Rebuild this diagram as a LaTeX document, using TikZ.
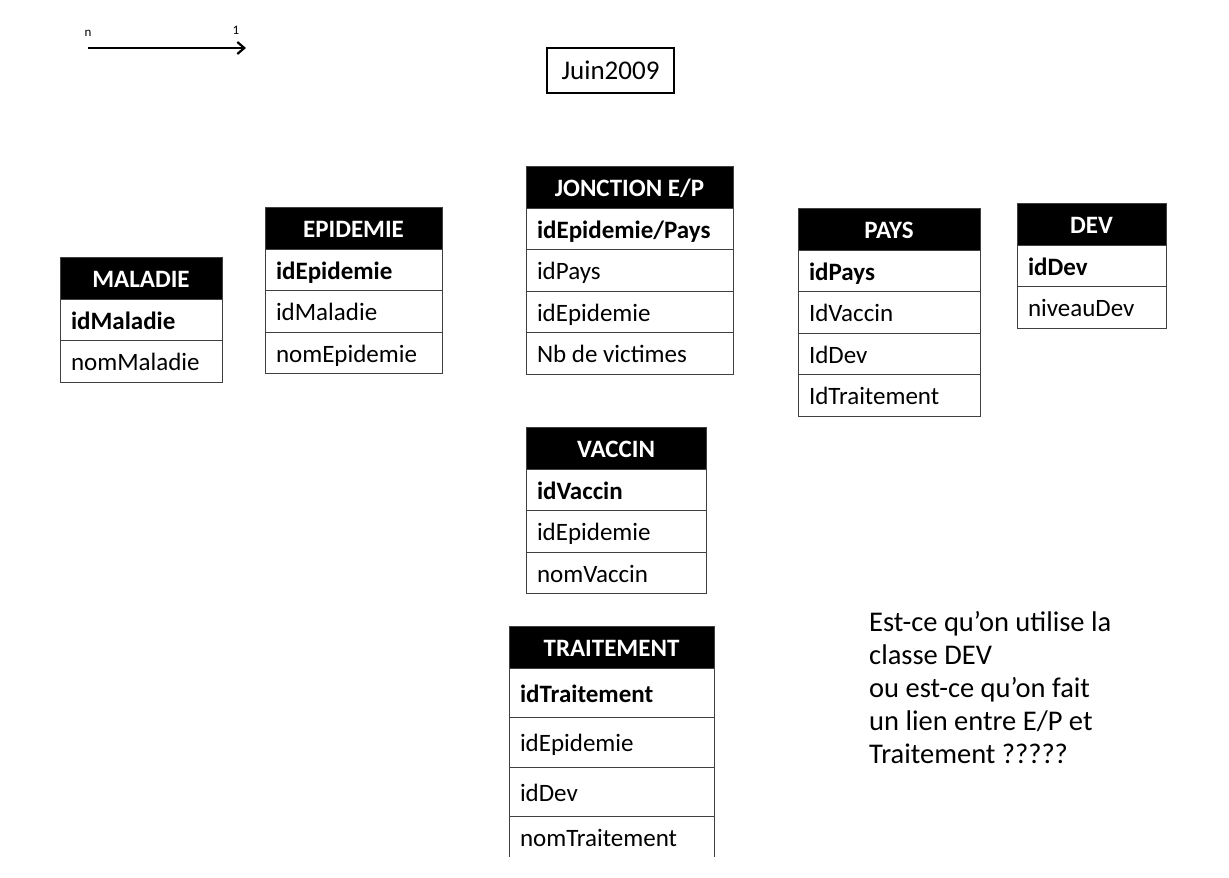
\documentclass[tikz,border=0pt]{standalone}
\usepackage{fontspec}
\setmainfont{Carlito}
\usetikzlibrary{positioning, arrows.meta}

\newcommand{\taille}{\fontsize{25}{29}\selectfont}

\begin{document}
\begin{tikzpicture}[x=1pt, y=-1pt,
    tete/.style={draw=black!75, fill=black, text=white, font=\taille\bfseries, line width=0.9pt,
      minimum width=#1, minimum height=42pt, inner sep=0pt, outer sep=0pt,
      text height=19pt, text depth=0pt},
    champ/.style={draw=black!75, line width=0.9pt, text width=#1, inner xsep=11pt, inner ysep=0pt,
      outer sep=0pt, minimum height=41.5pt, align=flush left, font=\taille,
      text height=19pt, text depth=0pt},
    cle/.style={champ=#1, font=\taille\bfseries}]
    \useasboundingbox (0,0) rectangle (1229,878);

    % sens des liens
    \node[font=\fontsize{13}{15}\selectfont] (n) at (88,33) {n};
    \node[font=\fontsize{13}{15}\selectfont] (un) at (236,30) {1};
    \coordinate (d) at (88,48);
    \coordinate (f) at (246,48);
    \draw[line width=2.2pt, -{Straight Barb[length=7pt, width=12pt]}] (d) -- (f);

    \node[draw, line width=1.8pt, minimum width=127pt, minimum height=45pt,
      font=\fontsize{27}{30}\selectfont] (date) at (610.5,70.5) {Juin2009};

    % MALADIE
    \node[tete=162pt, anchor=north west] (mal) at (60,257) {MALADIE};
    \node[cle=140pt, below=0pt of mal] (mal1) {idMaladie};
    \node[champ=140pt, below=0pt of mal1] (mal2) {nomMaladie};

    % EPIDEMIE
    \node[tete=177pt, anchor=north west] (epi) at (265,207) {EPIDEMIE};
    \node[cle=155pt, below=0pt of epi] (epi1) {idEpidemie};
    \node[champ=155pt, below=0pt of epi1] (epi2) {idMaladie};
    \node[champ=155pt, below=0pt of epi2] (epi3) {nomEpidemie};

    % JONCTION E/P
    \node[tete=207pt, anchor=north west] (jon) at (526,166) {JONCTION E/P};
    \node[cle=185pt, below=0pt of jon] (jon1) {idEpidemie/Pays};
    \node[champ=185pt, below=0pt of jon1] (jon2) {idPays};
    \node[champ=185pt, below=0pt of jon2] (jon3) {idEpidemie};
    \node[champ=185pt, below=0pt of jon3] (jon4) {Nb de victimes};

    % PAYS
    \node[tete=182pt, anchor=north west] (pays) at (798,208) {PAYS};
    \node[cle=160pt, below=0pt of pays] (pays1) {idPays};
    \node[champ=160pt, below=0pt of pays1] (pays2) {IdVaccin};
    \node[champ=160pt, below=0pt of pays2] (pays3) {IdDev};
    \node[champ=160pt, below=0pt of pays3] (pays4) {IdTraitement};

    % DEV
    \node[tete=149pt, anchor=north west] (dev) at (1017,203) {DEV};
    \node[cle=127pt, below=0pt of dev] (dev1) {idDev};
    \node[champ=127pt, below=0pt of dev1] (dev2) {niveauDev};

    % VACCIN
    \node[tete=180pt, anchor=north west] (vac) at (526,427) {VACCIN};
    \node[cle=158pt, below=0pt of vac] (vac1) {idVaccin};
    \node[champ=158pt, below=0pt of vac1] (vac2) {idEpidemie};
    \node[champ=158pt, below=0pt of vac2] (vac3) {nomVaccin};

    % TRAITEMENT
    \node[tete=205pt, anchor=north west] (tra) at (509,626) {TRAITEMENT};
    \node[cle=183pt, minimum height=49.5pt, below=0pt of tra] (tra1) {idTraitement};
    \node[champ=183pt, minimum height=49.5pt, below=0pt of tra1] (tra2) {idEpidemie};
    \node[champ=183pt, minimum height=49.5pt, below=0pt of tra2] (tra3) {idDev};
    \node[champ=183pt, draw=none, minimum height=40pt, below=0pt of tra3] (tra4) {nomTraitement};
    \draw[black!75, line width=0.9pt] (tra4.north west) -- (tra4.south west);
    \draw[black!75, line width=0.9pt] (tra4.north east) -- (tra4.south east);

    \node[anchor=north west, align=flush left, inner sep=0pt,
      font=\fontsize{28.5}{33}\selectfont] (question) at (869,611)
      {Est-ce qu’on utilise la\\classe DEV\\ou est-ce qu’on fait\\un lien entre E/P et\\Traitement ?????};
\end{tikzpicture}
\end{document}
